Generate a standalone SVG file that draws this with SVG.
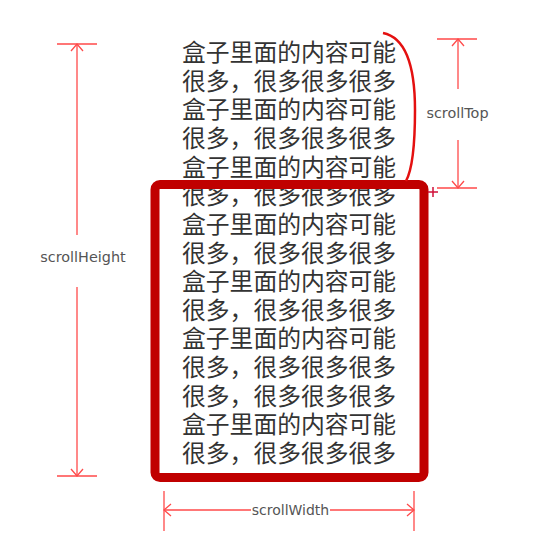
<svg xmlns="http://www.w3.org/2000/svg" width="535" height="547" viewBox="0 0 535 547">
<style>
.dim{stroke:#ff4a4a;stroke-width:1.3;fill:none}
.lbl{font-family:"DejaVu Sans",sans-serif;font-size:14.4px;fill:#555}
.cn{font-family:"Noto Sans CJK SC","Noto Sans CJK TC",sans-serif;font-size:23.8px;fill:#333}
</style>
<defs>
<marker id="ah" markerUnits="userSpaceOnUse" markerWidth="14" markerHeight="14" viewBox="-8 -7 10 14" refX="0" refY="0" orient="auto-start-reverse">
<path d="M-7,-6 L0,0 L-7,6" fill="none" stroke="#ff4a4a" stroke-width="1.3"/>
</marker>
</defs>
<rect width="535" height="547" fill="#fff"/>
<g id="content">
<text class="cn" x="182" y="61">盒子里面的内容可能</text>
<text class="cn" x="182" y="89.6">很多，很多很多很多</text>
<text class="cn" x="182" y="118.3">盒子里面的内容可能</text>
<text class="cn" x="182" y="146.9">很多，很多很多很多</text>
<text class="cn" x="182" y="175.6">盒子里面的内容可能</text>
<text class="cn" x="182" y="204.2">很多，很多很多很多</text>
<text class="cn" x="182" y="232.8">盒子里面的内容可能</text>
<text class="cn" x="182" y="261.5">很多，很多很多很多</text>
<text class="cn" x="182" y="290.1">盒子里面的内容可能</text>
<text class="cn" x="182" y="318.8">很多，很多很多很多</text>
<text class="cn" x="182" y="347.4">盒子里面的内容可能</text>
<text class="cn" x="182" y="376">很多，很多很多很多</text>
<text class="cn" x="182" y="404.7">很多，很多很多很多</text>
<text class="cn" x="182" y="433.3">盒子里面的内容可能</text>
<text class="cn" x="182" y="462">很多，很多很多很多</text>
</g>
<g id="box">
<rect x="155" y="184.5" width="269" height="293" rx="5" fill="none" stroke="#c00000" stroke-width="9"/>
</g>
<g id="connectors">
<path d="M383,33 C403,37 415,60 415,110 C415,150 412,170 406,181" fill="none" stroke="#e41010" stroke-width="2.5"/>
<path d="M428,192 H438 M433,187 V197" stroke="#d0103a" stroke-width="1.5"/>
<!-- scrollHeight -->
<path class="dim" d="M57,44 H97 M57,476 H97"/>
<path class="dim" d="M77,235 V44" marker-end="url(#ah)"/>
<path class="dim" d="M77,287 V476" marker-end="url(#ah)"/>
<!-- scrollTop -->
<path class="dim" d="M437,39 H477 M437,188 H477"/>
<path class="dim" d="M458,89 V39" marker-end="url(#ah)"/>
<path class="dim" d="M458,140 V188" marker-end="url(#ah)"/>
<!-- scrollWidth -->
<path class="dim" d="M164,491 V531 M414,491 V531"/>
<path class="dim" d="M251,510 H164" marker-end="url(#ah)"/>
<path class="dim" d="M330,510 H414" marker-end="url(#ah)"/>
</g>
<g id="labels">
<text class="lbl" x="83" y="262" text-anchor="middle">scrollHeight</text>
<text class="lbl" x="457.5" y="118" text-anchor="middle">scrollTop</text>
<text class="lbl" x="290.5" y="515" text-anchor="middle" style="font-size:14px">scrollWidth</text>
</g>
</svg>
